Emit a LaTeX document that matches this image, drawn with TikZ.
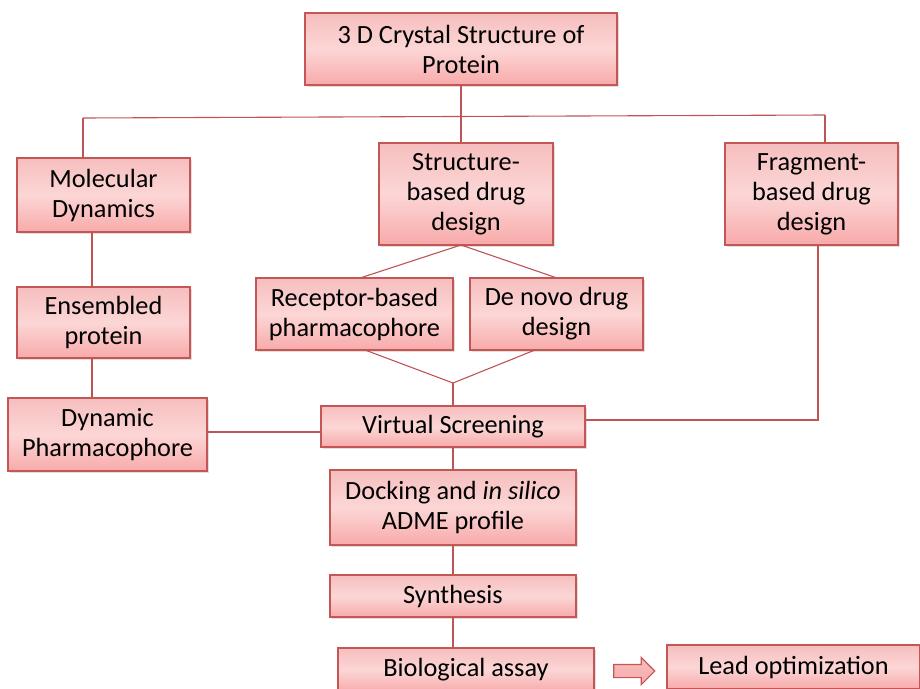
\documentclass[tikz,border=0pt]{standalone}
\usepackage{fontspec}
\setmainfont{Carlito}
\usetikzlibrary{shapes.arrows,shadows}
\definecolor{boxtop}{RGB}{246,190,190}
\definecolor{boxmid}{RGB}{252,214,214}
\definecolor{boxbot}{RGB}{248,170,170}
\definecolor{boxline}{RGB}{196,86,86}
\definecolor{conn}{RGB}{190,84,84}
\tikzset{
  box/.style={draw=boxline, line width=1.1pt, top color=boxtop, bottom color=boxbot, middle color=boxmid,
    rectangle, inner sep=0pt, align=center, font=\fontsize{26.3}{30}\selectfont,
    drop shadow={shadow xshift=1.5pt, shadow yshift=-1.5pt, opacity=0.25}},
  link/.style={draw=conn, line width=1.1pt}
}
\begin{document}
\begin{tikzpicture}[x=1pt,y=-1pt]
\useasboundingbox (0,0) rectangle (920,688);
\node[box, minimum width=312pt, minimum height=72pt] (top) at (461,49) {3 D Crystal Structure of\\Protein};
\node[box, minimum width=173pt, minimum height=74pt] (md) at (103.5,195) {Molecular\\Dynamics};
\node[box, minimum width=174pt, minimum height=102pt] (sbdd) at (466,194) {Structure-\\based drug\\design};
\node[box, minimum width=173pt, minimum height=102pt] (fbdd) at (811.5,194) {Fragment-\\based drug\\design};
\node[box, minimum width=173pt, minimum height=71pt] (ens) at (103.5,322.5) {Ensembled\\protein};
\node[box, minimum width=197pt, minimum height=72pt] (rec) at (354.5,314) {Receptor-based\\pharmacophore};
\node[box, minimum width=173pt, minimum height=72pt] (dn) at (556.5,314) {De novo drug\\design};
\node[box, minimum width=199pt, minimum height=73pt] (dyn) at (107.5,434.5) {Dynamic\\Pharmacophore};
\node[box, minimum width=264pt, minimum height=41pt] (vs) at (453,426.5) {Virtual Screening};
\node[box, minimum width=246pt, minimum height=75pt] (dock) at (453,507.5) {Docking and \textit{in silico}\\ADME profile};
\node[box, minimum width=246pt, minimum height=42pt] (syn) at (453,596) {Synthesis};
\node[box, minimum width=256pt, minimum height=44pt] (bio) at (466,670) {Biological assay};
\node[box, minimum width=253pt, minimum height=44pt] (lead) at (793.5,667) {Lead optimization};
\node[single arrow, draw=boxline, line width=1.1pt, top color=boxtop, bottom color=boxbot,
  inner xsep=0pt, inner ysep=6pt, single arrow head extend=7pt, minimum height=41pt] (arr) at (631,671) {};

\coordinate (hl) at (83,118);
\coordinate (hr) at (825,115);
\coordinate (hm) at (461,116.5);
\coordinate (j1) at (453,383);
\coordinate (fc) at (818,420);
\draw[link] (top.south) -- (hm);
\draw[link] (hl) -- (hr);
\draw[link] (hl) -- (83,158);
\draw[link] (hm) -- (sbdd.north -| hm);
\draw[link] (hr) -- (825,143);
\draw[link] (92,232) -- (92,287);
\draw[link] (92,358) -- (92,398);
\draw[link] (dyn.east |- 0,432) -- (vs.west |- 0,432);
\draw[link] (461,245) -- (360,278);
\draw[link] (461,245) -- (557,278);
\draw[link] (365,350) -- (j1);
\draw[link] (535,350) -- (j1);
\draw[link] (j1) -- (vs.north);
\draw[link] (818,245) -- (fc) -- (vs.east |- fc);
\draw[link] (vs.south) -- (dock.north);
\draw[link] (dock.south) -- (syn.north);
\draw[link] (syn.south) -- (bio.north -| syn.south);
\end{tikzpicture}
\end{document}
